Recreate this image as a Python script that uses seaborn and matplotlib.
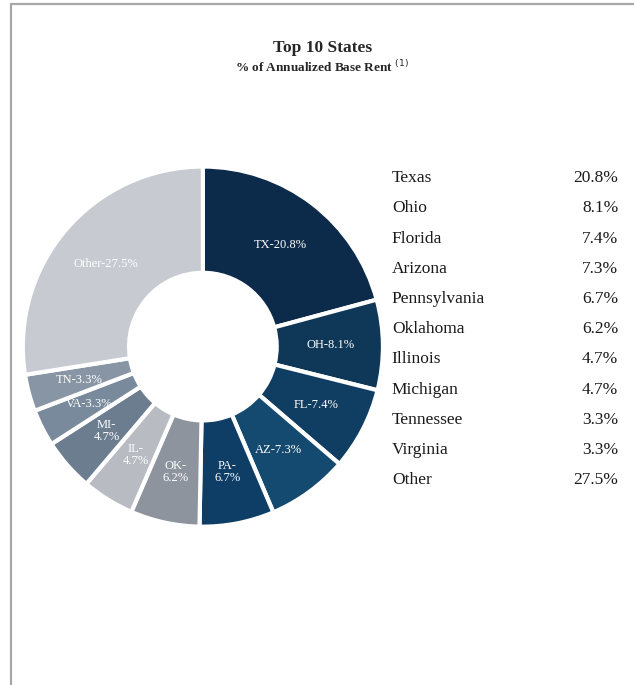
import numpy as np
import pandas as pd
import seaborn as sns
import matplotlib
matplotlib.use('Agg')
import matplotlib.pyplot as plt
from matplotlib.lines import Line2D

# 数据：各州占年化基础租金的比例
states = ['Texas', 'Ohio', 'Florida', 'Arizona', 'Pennsylvania', 'Oklahoma',
          'Illinois', 'Michigan', 'Tennessee', 'Virginia', 'Other']
pct_table = [20.8, 8.1, 7.4, 7.3, 6.7, 6.2, 4.7, 4.7, 3.3, 3.3, 27.5]

# 环形图里的顺序（顺时针，从12点开始）
ring_codes = ['TX', 'OH', 'FL', 'AZ', 'PA', 'OK', 'IL', 'MI', 'VA', 'TN', 'Other']
ring_pct = [20.8, 8.1, 7.4, 7.3, 6.7, 6.2, 4.7, 4.7, 3.3, 3.3, 27.5]
two_line = ['PA', 'OK', 'IL', 'MI']
ring_colors = ['#0c2b4a', '#0f3758', '#103d62', '#144a70', '#0e3d66', '#8d949d',
               '#b8bcc2', '#6c7d90', '#788a9c', '#8795a4', '#c7cad0']

sns.set_style('white')
plt.rcParams['font.family'] = ['Liberation Serif', 'DejaVu Serif']

fig = plt.figure(figsize=(6.34, 6.85), dpi=100)
fig.patch.set_facecolor('white')

# 边框（只有左边和上边）
fig.add_artist(Line2D([0.018, 0.018], [0, 0.994], color='#a8a8a8', lw=1.6))
fig.add_artist(Line2D([0.018, 1], [0.994, 0.994], color='#a8a8a8', lw=1.6))

# 标题
fig.text(0.508, 0.930, 'Top 10 States', ha='center', va='center',
         fontsize=12.5, fontweight='bold')
fig.text(0.508, 0.902, '% of Annualized Base Rent $^{(1)}$', ha='center', va='center',
         fontsize=9.5, fontweight='bold')

# 环形图
ax = fig.add_axes([0.036, 0.231, 0.568, 0.526])
labels = []
for code, v in zip(ring_codes, ring_pct):
    sep = '-\n' if code in two_line else '-'
    labels.append(f'{code}{sep}{v}%')

wedges, texts = ax.pie(ring_pct, colors=ring_colors, startangle=90, counterclock=False,
                       labels=labels, labeldistance=0.71,
                       wedgeprops=dict(width=0.59, edgecolor='white', linewidth=3),
                       textprops=dict(color='white', fontsize=9))
for t in texts:
    t.set_ha('center')
    t.set_va('center')
    t.set_linespacing(1.0)
ax.set_aspect('equal')
ax.set_xlim(-1, 1)
ax.set_ylim(-1, 1)
ax.axis('off')

# 右侧表格
y0 = 0.740
dy = 0.0441
for i, (name, v) in enumerate(zip(states, pct_table)):
    y = y0 - i * dy
    fig.text(0.618, y, name, ha='left', va='center', fontsize=12.5, color='#1a1a1a')
    fig.text(0.975, y, f'{v}%', ha='right', va='center', fontsize=12.5, color='#1a1a1a')

fig.savefig('out.png', dpi=100, facecolor='white')
